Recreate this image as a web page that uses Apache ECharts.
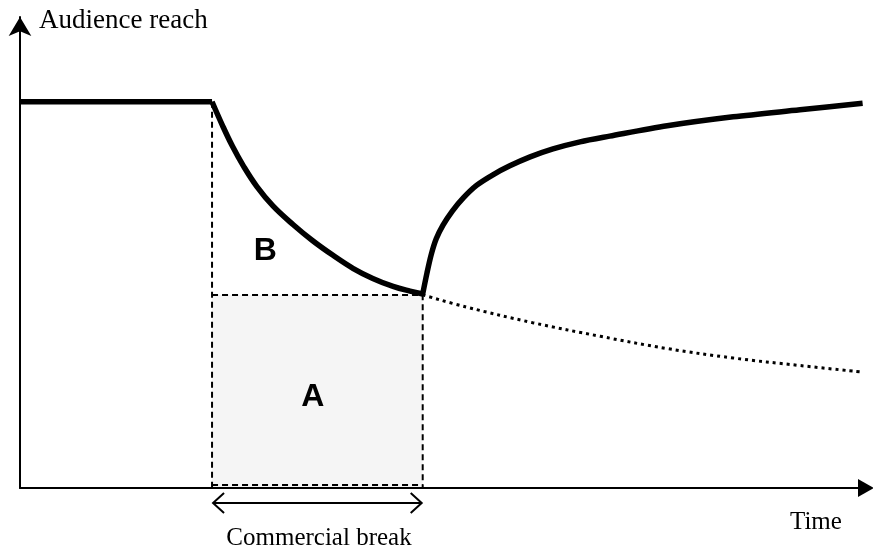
<!DOCTYPE html>
<html><head><meta charset="utf-8">
<script src="https://cdn.jsdelivr.net/npm/echarts@6/dist/echarts.min.js"></script>
<style>html,body{margin:0;padding:0;background:#fff}#c{width:873px;height:552px}</style>
</head><body><div id="c"></div>
<script>
// Time (x, 0..100) and audience reach (y, 0..100)
const plateauCurve = [[0, 82.0], [22.7, 82.0]];
const dropCurve = [[22.7, 82.0], [23.9, 77.1], [25.1, 72.6], [26.4, 68.4], [28.0, 64.0], [29.9, 59.9], [32.3, 55.9], [34.6, 52.5], [37.0, 49.4], [39.4, 46.6], [41.7, 44.5], [44.1, 42.8], [46.1, 41.8], [47.6, 41.2]];
const recoveryCurve = [[47.6, 41.2], [48.1, 45.6], [48.6, 49.5], [49.2, 52.9], [50.0, 55.8], [51.1, 58.8], [52.4, 61.6], [54.0, 64.3], [55.9, 66.5], [57.9, 68.4], [60.3, 70.3], [63.0, 72.0], [66.2, 73.5], [69.7, 74.7], [76.5, 76.9], [84.3, 78.8], [92.2, 80.3], [99.6, 81.7]];
const expectedCurve = [[47.6, 41.0], [52.8, 38.4], [60.6, 35.1], [68.6, 32.2], [76.5, 29.6], [84.3, 27.6], [92.2, 26.0], [99.6, 24.6]];
const breakWindow = [[22.7, 47.6, 41.0, 82.0]]; // start, end, reach at end, reach before
const areaLabelNames = ['B', 'A'];
const areaLabelPos = [[29.0, 50.3], [34.6, 19.3]];

const chart = echarts.init(document.getElementById('c'), null, { renderer: 'canvas' });
const solid = { color: '#000', width: 5.5 };
const dashStyle = { stroke: '#000', lineWidth: 2, lineDash: [6, 4], fill: null };
const thin = { stroke: '#000', lineWidth: 2, fill: null };

chart.setOption({
  animation: false,
  backgroundColor: '#fff',
  grid: { left: 20, right: 7, top: 17, bottom: 64 },
  xAxis: {
    type: 'value', min: 0, max: 100,
    axisLine: { show: true, onZero: false, symbol: ['none', 'triangle'], symbolSize: [18, 16], lineStyle: { color: '#000', width: 2 } },
    axisTick: { show: false }, axisLabel: { show: false }, splitLine: { show: false }
  },
  yAxis: {
    type: 'value', min: 0, max: 100,
    axisLine: { show: true, onZero: false, symbol: ['none', 'arrow'], symbolSize: [17, 19], lineStyle: { color: '#000', width: 2 } },
    axisTick: { show: false }, axisLabel: { show: false }, splitLine: { show: false }
  },
  graphic: [
    { type: 'text', x: 39, y: 21, style: { text: 'Audience reach', fontSize: 27, fontFamily: 'Liberation Serif', fill: '#000', align: 'left', verticalAlign: 'middle' } },
    { type: 'text', x: 790, y: 522, style: { text: 'Time', fontSize: 25, fontFamily: 'Liberation Serif', fill: '#000', align: 'left', verticalAlign: 'middle' } },
    { type: 'text', x: 319, y: 538, style: { text: 'Commercial break', fontSize: 25, fontFamily: 'Liberation Serif', fill: '#000', align: 'center', verticalAlign: 'middle' } }
  ],
  series: [
    {
      type: 'custom', z: 1, clip: false, silent: true,
      data: breakWindow,
      encode: { x: [0, 1], y: [2, 3] },
      renderItem: function (params, api) {
        const x0 = api.value(0), x1 = api.value(1), lvl = api.value(2), top = api.value(3);
        const pTL = api.coord([x0, lvl]);
        const pBR = api.coord([x1, 0]);
        const pTop = api.coord([x0, top]);
        const yb = pBR[1];
        const ya = yb + 15;
        return {
          type: 'group', children: [
            { type: 'rect', shape: { x: pTL[0], y: pTL[1], width: pBR[0] - pTL[0], height: yb - pTL[1] - 1 }, style: { fill: '#f5f5f5' } },
            { type: 'polyline', shape: { points: [[pTop[0], pTop[1]], [pTL[0], yb]] }, style: dashStyle },
            { type: 'polyline', shape: { points: [[pTL[0], pTL[1]], [pBR[0], pTL[1]], [pBR[0], yb]] }, style: dashStyle },
            { type: 'polyline', shape: { points: [[pTL[0], yb - 3], [pBR[0], yb - 3]] }, style: dashStyle },
            { type: 'polyline', shape: { points: [[pTL[0] + 1, ya], [pBR[0] - 1, ya]] }, style: thin },
            { type: 'polyline', shape: { points: [[pTL[0] + 12, ya - 10], [pTL[0] + 1, ya], [pTL[0] + 12, ya + 10]] }, style: thin },
            { type: 'polyline', shape: { points: [[pBR[0] - 12, ya - 10], [pBR[0] - 1, ya], [pBR[0] - 12, ya + 10]] }, style: thin }
          ]
        };
      }
    },
    { type: 'line', z: 3, data: expectedCurve, smooth: 0.4, symbol: 'none', lineStyle: { color: '#000', width: 3, type: [3, 4] } },
    { type: 'line', z: 4, data: plateauCurve, symbol: 'none', lineStyle: solid },
    { type: 'line', z: 4, data: dropCurve, smooth: 0.4, symbol: 'none', lineStyle: solid },
    { type: 'line', z: 4, data: recoveryCurve, smooth: 0.3, symbol: 'none', lineStyle: solid },
    {
      type: 'custom', z: 5, clip: false, silent: true,
      data: areaLabelPos,
      encode: { x: 0, y: 1 },
      renderItem: function (params, api) {
        const p = api.coord([api.value(0), api.value(1)]);
        return {
          type: 'text', x: p[0], y: p[1],
          style: { text: areaLabelNames[params.dataIndex], fontSize: 32, fontWeight: 'bold', fontFamily: 'Liberation Sans', fill: '#000', align: 'center', verticalAlign: 'middle' }
        };
      }
    }
  ]
});
</script></body></html>
